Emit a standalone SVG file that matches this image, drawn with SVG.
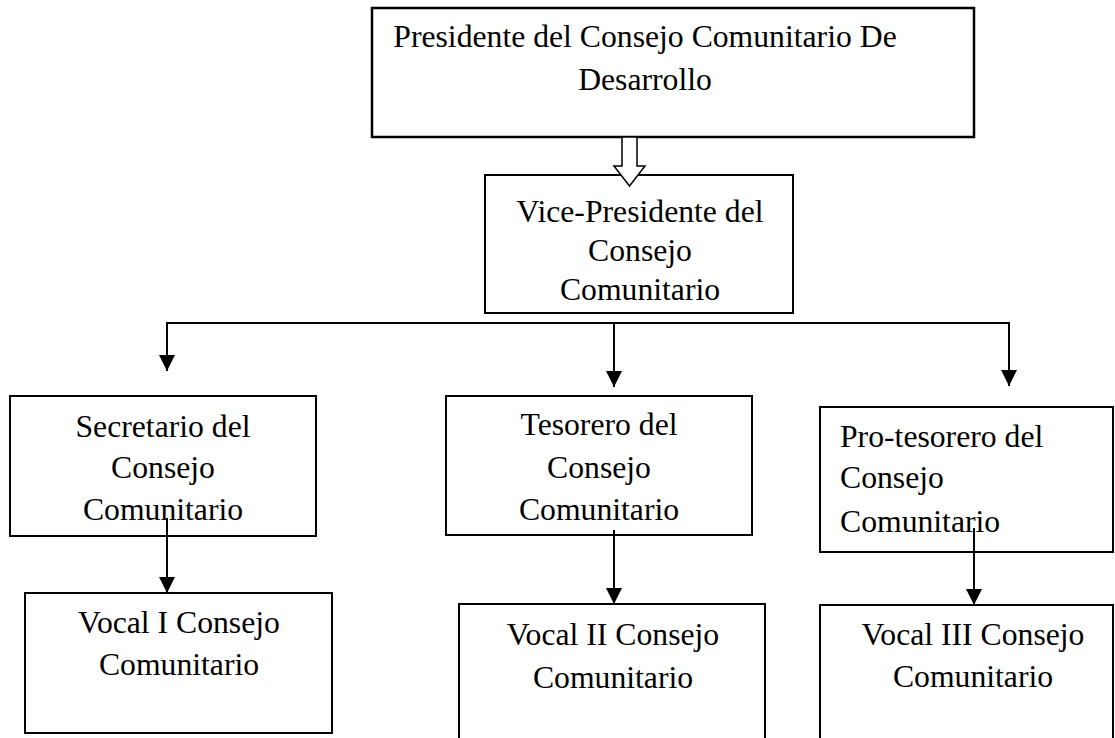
<svg xmlns="http://www.w3.org/2000/svg" width="1115" height="738" viewBox="0 0 1115 738">
<style>
.box{fill:#fff;stroke:#000;stroke-width:2}
.t{font-family:"Liberation Serif","Times New Roman",serif;font-size:31.7px;fill:#000}
.c{text-anchor:middle}
.ln{stroke:#000;stroke-width:2;fill:none}
</style>
<defs>
<marker id="ah" markerUnits="userSpaceOnUse" markerWidth="16" markerHeight="16" viewBox="0 0 16 16" refX="16" refY="8" orient="auto">
<path d="M0,0 L16,8 L0,16 Z" fill="#000"/>
</marker>
</defs>
<g id="presidente">
<rect class="box" x="372" y="8" width="602" height="129" style="stroke-width:2.5"/>
<text class="t c" x="645" y="47">Presidente del Consejo Comunitario De</text>
<text class="t c" x="645" y="90">Desarrollo</text>
</g>
<g id="vicepresidente">
<rect class="box" x="485" y="175" width="308" height="138"/>
<text class="t c" x="640" y="222">Vice-Presidente del</text>
<text class="t c" x="640" y="261">Consejo</text>
<text class="t c" x="640" y="300">Comunitario</text>
</g>
<g id="secretario">
<rect class="box" x="10" y="396" width="306" height="140"/>
<text class="t c" x="163" y="437">Secretario del</text>
<text class="t c" x="163" y="478">Consejo</text>
<text class="t c" x="163" y="520">Comunitario</text>
</g>
<g id="tesorero">
<rect class="box" x="446" y="396" width="306" height="139"/>
<text class="t c" x="599" y="435">Tesorero del</text>
<text class="t c" x="599" y="478">Consejo</text>
<text class="t c" x="599" y="520">Comunitario</text>
</g>
<g id="protesorero">
<rect class="box" x="820" y="407" width="293" height="145"/>
<text class="t" x="840" y="447">Pro-tesorero del</text>
<text class="t" x="840" y="488">Consejo</text>
<text class="t" x="840" y="532">Comunitario</text>
</g>
<g id="vocal1">
<rect class="box" x="25" y="593" width="307" height="140"/>
<text class="t c" x="179" y="633">Vocal I Consejo</text>
<text class="t c" x="179" y="675">Comunitario</text>
</g>
<g id="vocal2">
<rect class="box" x="459" y="604" width="306" height="140"/>
<text class="t c" x="613" y="645">Vocal II Consejo</text>
<text class="t c" x="613" y="688">Comunitario</text>
</g>
<g id="vocal3">
<rect class="box" x="820" y="605" width="293" height="140"/>
<text class="t c" x="973" y="645">Vocal III Consejo</text>
<text class="t c" x="973" y="687">Comunitario</text>
</g>
<g id="connectors">
<polygon points="622,137 637,137 637,166 645,166 629.5,186 614,166 622,166" fill="#fff" stroke="#000" stroke-width="1.5"/>
<polyline class="ln" points="167,371 167,323 1009,323 1009,386" marker-end="url(#ah)"/>
<line class="ln" x1="167" y1="323" x2="167" y2="371" marker-end="url(#ah)"/>
<line class="ln" x1="614" y1="323" x2="614" y2="387" marker-end="url(#ah)"/>
<line class="ln" x1="167" y1="518" x2="167" y2="593" marker-end="url(#ah)"/>
<line class="ln" x1="614" y1="530" x2="614" y2="604" marker-end="url(#ah)"/>
<line class="ln" x1="974" y1="528" x2="974" y2="605" marker-end="url(#ah)"/>
</g>
</svg>
